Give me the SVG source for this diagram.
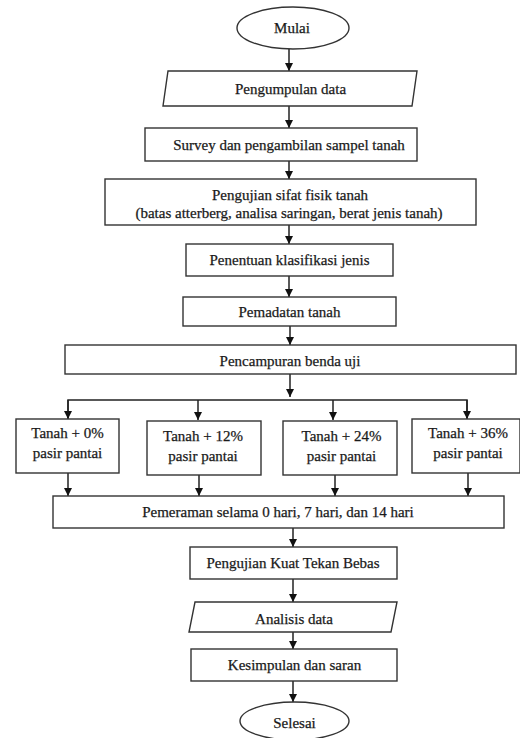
<svg xmlns="http://www.w3.org/2000/svg" width="520" height="738" viewBox="0 0 520 738">
<defs>
<style>
.n{fill:#fff;stroke:#333;stroke-width:1.4}
.t{font-family:"Liberation Serif","Times New Roman",serif;font-size:15px;fill:#1a1a1a;stroke:#1a1a1a;stroke-width:0.25;text-anchor:middle}
.c{fill:none;stroke:#222;stroke-width:1.5}
</style>
<marker id="ah" markerUnits="userSpaceOnUse" markerWidth="9" markerHeight="8" refX="8" refY="4" orient="auto">
<path d="M0,0 L8,4 L0,8 z" fill="#111"/>
</marker>
</defs>
<rect width="520" height="738" fill="#fff"/>
<g id="connectors">
<line class="c" x1="289" y1="49" x2="289" y2="71" marker-end="url(#ah)"/>
<line class="c" x1="289" y1="106" x2="289" y2="128" marker-end="url(#ah)"/>
<line class="c" x1="289" y1="161" x2="289" y2="179" marker-end="url(#ah)"/>
<line class="c" x1="289" y1="225" x2="289" y2="244" marker-end="url(#ah)"/>
<line class="c" x1="289" y1="276" x2="289" y2="297" marker-end="url(#ah)"/>
<line class="c" x1="290" y1="326" x2="290" y2="345" marker-end="url(#ah)"/>
<line class="c" x1="290" y1="374" x2="290" y2="397" marker-end="url(#ah)"/>
<polyline class="c" points="68,418 68,400 467,400 467,418"/>
<line class="c" x1="68" y1="400" x2="68" y2="419" marker-end="url(#ah)"/>
<line class="c" x1="198" y1="400" x2="198" y2="420" marker-end="url(#ah)"/>
<line class="c" x1="333" y1="400" x2="333" y2="420" marker-end="url(#ah)"/>
<line class="c" x1="467" y1="400" x2="467" y2="419" marker-end="url(#ah)"/>
<line class="c" x1="68" y1="473" x2="68" y2="496" marker-end="url(#ah)"/>
<line class="c" x1="199" y1="475" x2="199" y2="496" marker-end="url(#ah)"/>
<line class="c" x1="335" y1="475" x2="335" y2="496" marker-end="url(#ah)"/>
<line class="c" x1="468" y1="473" x2="468" y2="496" marker-end="url(#ah)"/>
<line class="c" x1="293" y1="528" x2="293" y2="547" marker-end="url(#ah)"/>
<line class="c" x1="293" y1="579" x2="293" y2="602" marker-end="url(#ah)"/>
<line class="c" x1="293" y1="632" x2="293" y2="649" marker-end="url(#ah)"/>
<line class="c" x1="293" y1="681" x2="293" y2="702" marker-end="url(#ah)"/>
</g>
<g id="mulai">
<ellipse class="n" cx="293" cy="28" rx="56" ry="21"/>
<text class="t" x="292" y="33">Mulai</text>
</g>
<g id="pengumpulan">
<polygon class="n" points="168,71 417,71 412,106 163,106"/>
<text class="t" x="290.5" y="94">Pengumpulan data</text>
</g>
<g id="survey">
<rect class="n" x="145" y="128" width="272" height="33"/>
<text class="t" x="289" y="150">Survey dan pengambilan sampel tanah</text>
</g>
<g id="pengujian-fisik">
<rect class="n" x="105" y="179" width="371" height="46"/>
<text class="t" x="290" y="200">Pengujian sifat fisik tanah</text>
<text class="t" x="289" y="218">(batas atterberg, analisa saringan, berat jenis tanah)</text>
</g>
<g id="penentuan">
<rect class="n" x="186" y="244" width="207" height="32"/>
<text class="t" x="289.5" y="265">Penentuan klasifikasi jenis</text>
</g>
<g id="pemadatan">
<rect class="n" x="183" y="297" width="213" height="29"/>
<text class="t" x="289.5" y="317">Pemadatan tanah</text>
</g>
<g id="pencampuran">
<rect class="n" x="65" y="345" width="451" height="29"/>
<text class="t" x="290" y="366">Pencampuran benda uji</text>
</g>
<g id="tanah0">
<rect class="n" x="16" y="419" width="103" height="54"/>
<text class="t" x="67.5" y="438">Tanah + 0%</text>
<text class="t" x="67.5" y="458">pasir pantai</text>
</g>
<g id="tanah12">
<rect class="n" x="147" y="421" width="114" height="54"/>
<text class="t" x="203" y="441">Tanah + 12%</text>
<text class="t" x="203" y="461">pasir pantai</text>
</g>
<g id="tanah24">
<rect class="n" x="283" y="421" width="114" height="54"/>
<text class="t" x="341.5" y="441">Tanah + 24%</text>
<text class="t" x="341.5" y="461">pasir pantai</text>
</g>
<g id="tanah36">
<rect class="n" x="412" y="419" width="108" height="54"/>
<text class="t" x="468" y="438">Tanah + 36%</text>
<text class="t" x="468" y="458">pasir pantai</text>
</g>
<g id="pemeraman">
<rect class="n" x="53" y="496" width="451" height="32"/>
<text class="t" x="278" y="517">Pemeraman selama 0 hari, 7 hari, dan 14 hari</text>
</g>
<g id="kuat-tekan">
<rect class="n" x="190" y="547" width="207" height="32"/>
<text class="t" x="293" y="568">Pengujian Kuat Tekan Bebas</text>
</g>
<g id="analisis">
<polygon class="n" points="195,602 397,602 391,632 189,632"/>
<text class="t" x="294" y="624">Analisis data</text>
</g>
<g id="kesimpulan">
<rect class="n" x="191" y="649" width="206" height="32"/>
<text class="t" x="294.5" y="670">Kesimpulan dan saran</text>
</g>
<g id="selesai">
<ellipse class="n" cx="294.5" cy="721" rx="54.5" ry="19"/>
<text class="t" x="294.5" y="728">Selesai</text>
</g>
</svg>
